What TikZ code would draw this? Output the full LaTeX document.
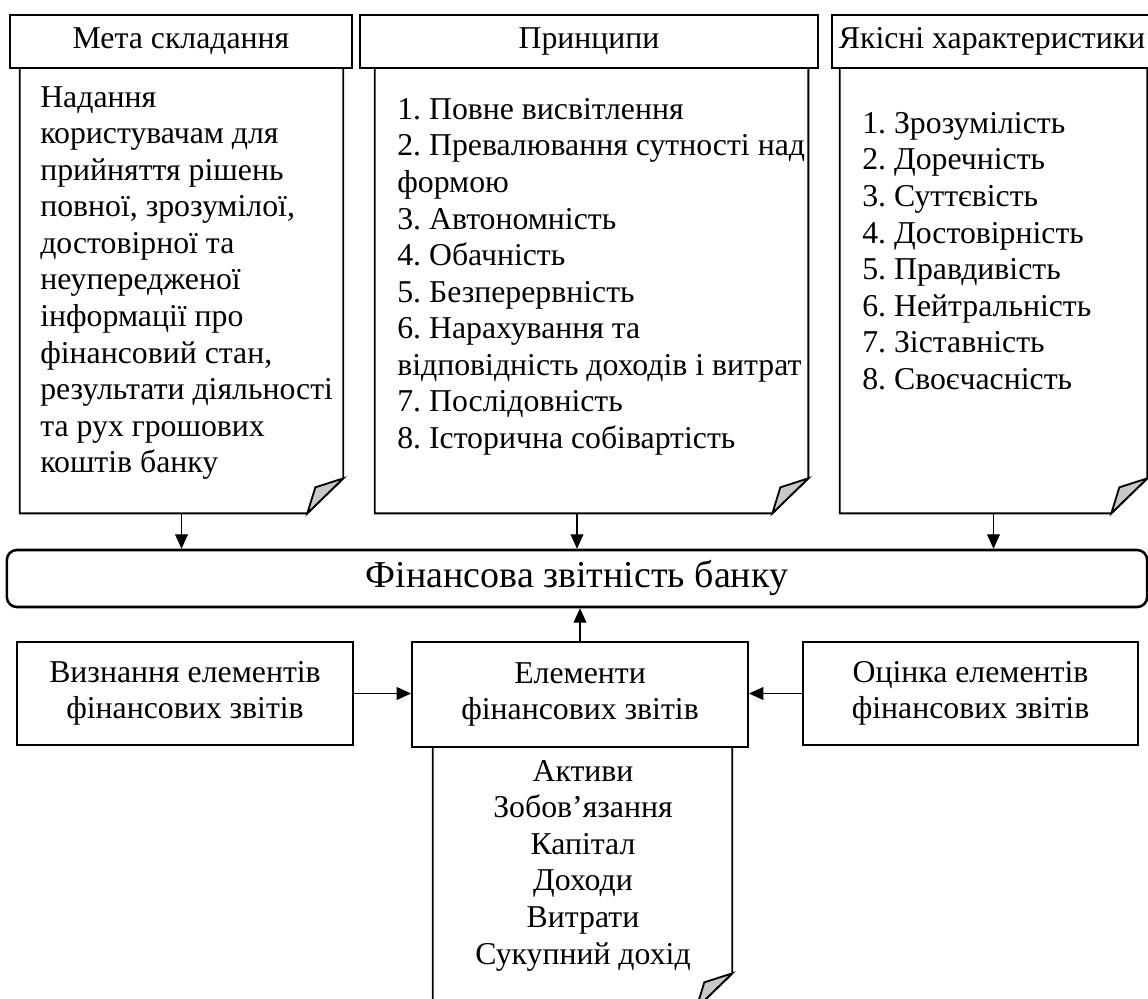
\documentclass[tikz,border=0pt]{standalone}
\usepackage{fontspec}
\setmainfont{Liberation Serif}
\usepackage{tikz}
\usetikzlibrary{arrows.meta, positioning, calc}
\definecolor{flapgray}{RGB}{200, 200, 200}
\frenchspacing
\newcommand{\boxfont}{\fontsize{22.6}{26}\selectfont}
\newcommand{\foldsheet}[1]{%
  \draw[sheetline] (#1.north west) -- (#1.south west) -- ($(#1.south east)+(-36,0)$)
    -- ($(#1.south east)+(0,-35)$) -- (#1.north east);
  \filldraw[sheetline, fill=flapgray] ($(#1.south east)+(0,-35)$) -- ($(#1.south east)+(-28,-26)$)
    -- ($(#1.south east)+(-36,0)$) -- cycle;
}

\begin{document}
\begin{tikzpicture}[
  x=0.025cm, y=-0.025cm,
  head/.style={draw, line width=1.3pt, minimum height=1.325cm, inner sep=0pt, font=\boxfont},
  sheet/.style={inner sep=0pt, minimum height=11.125cm},
  sheetline/.style={line width=1.3pt, line join=miter},
  list/.style={anchor=north west, align=left, inner sep=0pt, font=\boxfont},
  title/.style={draw, line width=1.8pt, rounded corners=0.25cm,
    minimum width=28.5cm, minimum height=1.425cm, font=\fontsize{27}{30}\selectfont},
  box/.style={draw, line width=1.3pt, minimum height=2.575cm, align=center,
    inner sep=0pt, font=\boxfont},
  arrow/.style={-{Triangle[length=0.36cm, width=0.32cm]}, line width=0.9pt}
]
  \useasboundingbox (0,0) rectangle (1148,998);
  \clip (0,0) rectangle (1148,998);

  \node[head, minimum width=8.55cm] (h1) at (181,41.5) {Мета складання};
  \node[head, minimum width=11.45cm] (h2) at (589,41.5) {Принципи};
  \node[head, minimum width=8cm] (h3) at (992,41.5) {Якісні характеристики};

  \node[sheet, minimum width=8.075cm] (b1) at (181.5,290.5) {};
  \node[sheet, minimum width=10.825cm] (b2) at (591.5,290.5) {};
  \node[sheet, minimum width=7.675cm] (b3) at (993.5,290.5) {};
  \foldsheet{b1}
  \foldsheet{b2}
  \foldsheet{b3}

  \node[list] (t1) at (40,86) {Надання\\користувачам для\\прийняття рішень\\повної, зрозумілої,\\достовірної та\\неупередженої\\інформації про\\фінансовий стан,\\результати діяльності\\та рух грошових\\коштів банку};
  \node[list] (t2) at (397,98) {1. Повне висвітлення\\2. Превалювання сутності над\\формою\\3. Автономність\\4. Обачність\\5. Безперервність\\6. Нарахування та\\відповідність доходів і витрат\\7. Послідовність\\8. Історична собівартість};
  \node[list] (t3) at (862,112) {1. Зрозумілість\\2. Доречність\\3. Суттєвість\\4. Достовірність\\5. Правдивість\\6. Нейтральність\\7. Зіставність\\8. Своєчасність};

  \node[title] (fin) at (577,578.5) {Фінансова звітність банку};

  \node[box, minimum width=8.4cm] (rec) at (185,693.5) {Визнання елементів\\фінансових звітів};
  \node[box, minimum width=8.4cm, minimum height=2.625cm] (elem) at (580,694.5) {Елементи\\фінансових звітів};
  \node[box, minimum width=8.375cm] (meas) at (970.5,693.5) {Оцінка елементів\\фінансових звітів};

  \node[sheet, minimum width=7.475cm, minimum height=6.525cm] (b4) at (582.5,877.5) {};
  \foldsheet{b4}
  \node[list, anchor=north, align=center] (t4) at (583,760) {Активи\\Зобов’язання\\Капітал\\Доходи\\Витрати\\Сукупний дохід};

  \draw[arrow] (b1.south) -- (b1.south |- fin.north);
  \draw[arrow] (b2.south -| fin.north) -- (fin.north);
  \draw[arrow] (b3.south) -- (b3.south |- fin.north);
  \draw[arrow] (elem.north) -- (elem.north |- fin.south);
  \draw[arrow] (rec.east) -- (rec.east -| elem.west);
  \draw[arrow] (meas.west) -- (meas.west -| elem.east);
\end{tikzpicture}
\end{document}
